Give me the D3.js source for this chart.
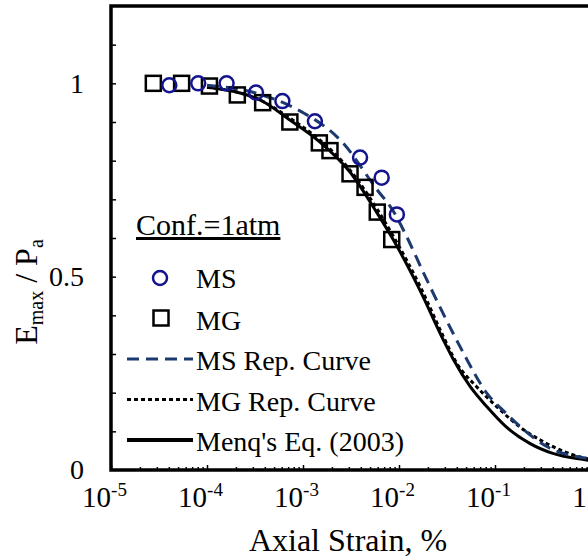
<!DOCTYPE html>
<html>
<head>
<meta charset="utf-8">
<script src="https://cdn.jsdelivr.net/npm/d3@7"></script>
<style>
  html, body { margin: 0; padding: 0; background: #fff; }
  svg { display: block; }
</style>
</head>
<body>
<div id="chart"></div>
<script>
// measured points
const msStrain = [4.05e-5, 8.1e-5, 1.6e-4, 3.24e-4, 6.1e-4, 1.33e-3, 3.93e-3, 6.6e-3, 9.5e-3];
const msRatio = [0.995, 1.0, 1.0, 0.976, 0.954, 0.902, 0.808, 0.756, 0.661];
const mgStrain = [2.76e-5, 5.44e-5, 1.06e-4, 2.07e-4, 3.8e-4, 7.3e-4, 1.48e-3, 1.91e-3, 3.09e-3, 4.43e-3, 5.94e-3, 8.4e-3];
const mgRatio = [1.0, 1.0, 0.993, 0.97, 0.95, 0.9, 0.846, 0.826, 0.766, 0.731, 0.667, 0.596];

// representative curves
const msCurveStrain = [1e-4, 3.2e-4, 8.6e-4, 2.6e-3, 5.9e-3, 8.7e-3, 0.012, 0.018, 0.031, 0.047, 0.082, 0.13, 0.2, 0.35, 0.9, 1];
const msCurveRatio = [0.995, 0.975, 0.933, 0.846, 0.725, 0.67, 0.604, 0.51, 0.389, 0.302, 0.199, 0.147, 0.104, 0.06, 0.03, 0.028];
const mgCurveStrain = [1e-4, 3.7e-4, 7.3e-4, 1.47e-3, 3.1e-3, 5.9e-3, 8.7e-3, 0.0166, 0.029, 0.04, 0.064, 0.104, 0.18, 0.32, 0.9, 1];
const mgCurveRatio = [0.99, 0.955, 0.91, 0.855, 0.775, 0.675, 0.605, 0.475, 0.345, 0.276, 0.216, 0.164, 0.112, 0.073, 0.03, 0.028];
const menqStrain = [1e-4, 3.7e-4, 7.3e-4, 1.47e-3, 3.1e-3, 5.9e-3, 8.7e-3, 0.0166, 0.029, 0.037, 0.055, 0.082, 0.13, 0.23, 0.4, 0.9, 1];
const menqRatio = [0.99, 0.955, 0.905, 0.85, 0.77, 0.665, 0.596, 0.464, 0.336, 0.285, 0.216, 0.164, 0.112, 0.069, 0.043, 0.026, 0.024];

const xTicks = [1e-5, 1e-4, 1e-3, 1e-2, 1e-1, 1];
const yTicks = [0, 0.5, 1];

const width = 588;
const height = 557;
const plot = { left: 111, right: 591, top: 6, bottom: 470 };
const serif = "'Liberation Serif', 'Times New Roman', serif";

const navy = "#14148f";
const blue = "#1c3a6e";

const svg = d3.select("#chart").append("svg")
  .attr("width", width)
  .attr("height", height)
  .attr("font-family", serif);

const x = d3.scaleLog().domain([1e-5, 1]).range([plot.left, plot.right]);
const y = d3.scaleLinear().domain([0, 1.2]).range([plot.bottom, plot.top]);

const zip = (xs, ys) => xs.map((v, i) => [v, ys[i]]);

// minor ticks on y every 0.1 (inward)
svg.append("g")
  .attr("transform", `translate(${plot.left},0)`)
  .call(d3.axisRight(y).tickValues(d3.range(1, 12).map((d) => d / 10)).tickSize(5).tickFormat(""))
  .call((g) => g.select(".domain").remove())
  .call((g) => g.selectAll(".tick line").attr("stroke", "#000").attr("stroke-width", 1.5));

// y labels
svg.append("g")
  .attr("transform", `translate(${plot.left},0)`)
  .call(d3.axisLeft(y).tickValues(yTicks).tickSize(0).tickPadding(27).tickFormat(d3.format("")))
  .attr("font-family", serif)
  .attr("font-size", 28)
  .call((g) => g.select(".domain").remove())
  .call((g) => g.selectAll(".tick text").attr("fill", "#000"));

// x ticks: decades and 2..9 minors, pointing up
const minor = [];
for (let e = -5; e < 0; e++) for (let m = 2; m <= 9; m++) minor.push(m * Math.pow(10, e));

svg.append("g")
  .attr("transform", `translate(0,${plot.bottom})`)
  .call(d3.axisTop(x).tickValues(minor).tickSize(3).tickFormat(""))
  .call((g) => g.select(".domain").remove())
  .call((g) => g.selectAll(".tick line").attr("stroke", "#000").attr("stroke-width", 1.5));

const xAxis = svg.append("g")
  .attr("transform", `translate(0,${plot.bottom})`)
  .call(d3.axisTop(x).tickValues(xTicks).tickSize(5).tickFormat(""))
  .attr("font-family", serif)
  .call((g) => g.select(".domain").remove())
  .call((g) => g.selectAll(".tick line").attr("stroke", "#000").attr("stroke-width", 1.5));

// x labels with superscript exponents
xAxis.selectAll(".tick").append("text")
  .attr("y", 37)
  .attr("dx", -7)
  .attr("text-anchor", "middle")
  .attr("fill", "#000")
  .attr("font-size", 29)
  .each(function (d) {
    const t = d3.select(this);
    const exp = Math.round(Math.log10(d));
    if (exp === 0) {
      t.attr("dx", -12).text("1");
      return;
    }
    t.append("tspan").text("10");
    t.append("tspan").attr("font-size", 19).attr("dy", -11).text(String(exp));
  });

// frame
svg.append("rect")
  .attr("x", plot.left)
  .attr("y", plot.top)
  .attr("width", plot.right - plot.left)
  .attr("height", plot.bottom - plot.top)
  .attr("fill", "none")
  .attr("stroke", "#000")
  .attr("stroke-width", 3.5);

// curves
const line = d3.line()
  .x((d) => x(d[0]))
  .y((d) => y(d[1]))
  .curve(d3.curveMonotoneX);

const curves = [
  { data: zip(menqStrain, menqRatio), color: "#000", dash: null, label: "Menq's Eq. (2003)" },
  { data: zip(mgCurveStrain, mgCurveRatio), color: "#000", dash: "4 3", label: "MG Rep. Curve" },
  { data: zip(msCurveStrain, msCurveRatio), color: blue, dash: "12 7", label: "MS Rep. Curve" },
];

curves.forEach((c) => {
  svg.append("path")
    .datum(c.data)
    .attr("fill", "none")
    .attr("stroke", c.color)
    .attr("stroke-width", 3)
    .attr("stroke-dasharray", c.dash)
    .attr("d", line);
});

// markers
svg.append("g")
  .selectAll("rect")
  .data(zip(mgStrain, mgRatio))
  .join("rect")
  .attr("x", (d) => x(d[0]) - 7.5)
  .attr("y", (d) => y(d[1]) - 7.5)
  .attr("width", 15)
  .attr("height", 15)
  .attr("fill", "none")
  .attr("stroke", "#000")
  .attr("stroke-width", 2.5);

svg.append("g")
  .selectAll("circle")
  .data(zip(msStrain, msRatio))
  .join("circle")
  .attr("cx", (d) => x(d[0]))
  .attr("cy", (d) => y(d[1]))
  .attr("r", 7)
  .attr("fill", "none")
  .attr("stroke", navy)
  .attr("stroke-width", 2.5);

// legend
const legend = svg.append("g").attr("font-size", 28);

legend.append("text")
  .attr("x", 136)
  .attr("y", 235)
  .attr("font-size", 30)
  .attr("text-decoration", "underline")
  .text("Conf.=1atm");

legend.append("circle")
  .attr("cx", 160).attr("cy", 278).attr("r", 7)
  .attr("fill", "none").attr("stroke", navy).attr("stroke-width", 2.5);
legend.append("text").attr("x", 196).attr("y", 288).text("MS");

legend.append("rect")
  .attr("x", 153.5).attr("y", 310.5).attr("width", 15).attr("height", 15)
  .attr("fill", "none").attr("stroke", "#000").attr("stroke-width", 2.5);
legend.append("text").attr("x", 196).attr("y", 330).text("MG");

[...curves].reverse().forEach((c, i) => {
  const ly = 359 + i * 40.5;
  legend.append("line")
    .attr("x1", 127).attr("x2", 193)
    .attr("y1", ly).attr("y2", ly)
    .attr("stroke", c.color)
    .attr("stroke-width", c.dash ? 3 : 4)
    .attr("stroke-dasharray", c.dash);
  legend.append("text")
    .attr("x", 196)
    .attr("y", ly + 11)
    .text(c.label);
});

// axis titles
svg.append("text")
  .attr("x", 348)
  .attr("y", 551)
  .attr("text-anchor", "middle")
  .attr("font-size", 32)
  .text("Axial Strain, %");

const yTitle = svg.append("text")
  .attr("transform", "translate(37,292) rotate(-90)")
  .attr("text-anchor", "middle")
  .attr("font-size", 32);
yTitle.append("tspan").text("E");
yTitle.append("tspan").attr("font-size", 20).attr("dy", 6).text("max");
yTitle.append("tspan").attr("dy", -6).text(" / P");
yTitle.append("tspan").attr("font-size", 20).attr("dy", 6).text("a");
</script>
</body>
</html>
